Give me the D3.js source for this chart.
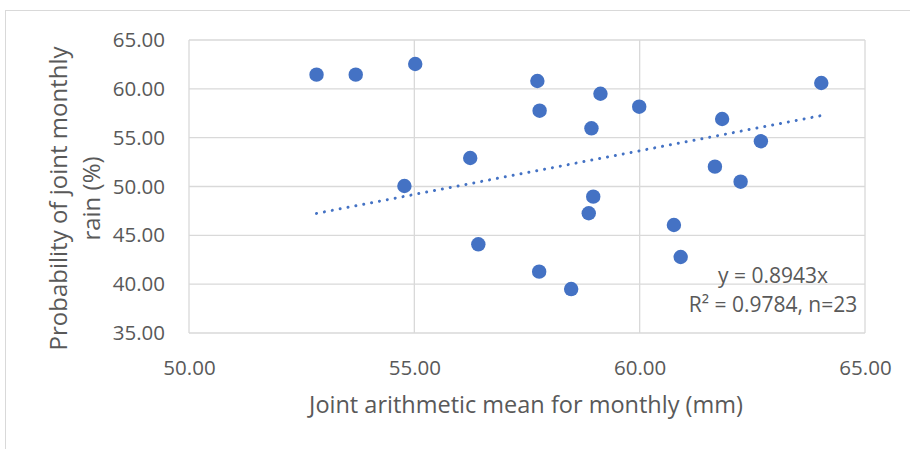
<!DOCTYPE html>
<html>
<head>
<meta charset="utf-8">
<script src="https://cdn.jsdelivr.net/npm/d3@7"></script>
<style>
  body { margin: 0; background: #fff; }
  text { font-family: "Open Sans", sans-serif; fill: #595959; }
</style>
</head>
<body>
<div id="chart"></div>
<script>
// mean monthly rain (mm) vs probability of joint monthly rain (%)
var xVals = [52.83, 53.70, 55.02, 54.78, 57.73, 57.78, 59.13, 59.99, 58.93, 56.24, 64.03,
             61.83, 62.69, 61.67, 62.24, 58.97, 58.87, 60.76, 56.42, 57.77, 58.48, 60.91];
var yVals = [61.45, 61.45, 62.54, 50.05, 60.80, 57.76, 59.50, 58.17, 55.96, 52.92, 60.60,
             56.91, 54.63, 52.03, 50.49, 48.96, 47.26, 46.06, 44.08, 41.28, 39.50, 42.78];
var xTicks = [50, 55, 60, 65];
var yTicks = [35, 40, 45, 50, 55, 60, 65];
var slope = 0.8943;
var eqLines = ["y = 0.8943x", "R\u00b2 = 0.9784, n=23"];

var W = 910, H = 449;
var margin = {top: 40, right: 45, bottom: 116, left: 189},
    width = 865 - margin.left, height = 333 - margin.top;

var root = d3.select("#chart").append("svg").attr("width", W).attr("height", H);
root.append("rect").attr("x", 5.5).attr("y", 10.5).attr("width", W).attr("height", H)
  .attr("fill", "#fff").attr("stroke", "#d9d9d9");

var svg = root.append("g").attr("transform", `translate(${margin.left},${margin.top})`);

var x = d3.scaleLinear().domain([50, 65]).range([0, width]);
var y = d3.scaleLinear().domain([35, 65]).range([height, 0]);

// gridlines
svg.append("g").selectAll("line").data(yTicks).join("line")
  .attr("x1", 0).attr("x2", width).attr("y1", d => y(d)).attr("y2", d => y(d))
  .attr("stroke", "#d9d9d9").attr("stroke-width", 1.3);
svg.append("g").selectAll("line").data(xTicks).join("line")
  .attr("y1", 0).attr("y2", height).attr("x1", d => x(d)).attr("x2", d => x(d))
  .attr("stroke", "#d9d9d9").attr("stroke-width", 1.3);

// axes (labels only)
var xAxis = svg.append("g").attr("transform", `translate(0,${height})`)
  .call(d3.axisBottom(x).tickValues(xTicks).tickFormat(d3.format(".2f")).tickSize(0).tickPadding(27));
var yAxis = svg.append("g")
  .call(d3.axisLeft(y).tickValues(yTicks).tickFormat(d3.format(".2f")).tickSize(0).tickPadding(24));
[xAxis, yAxis].forEach(function(a) {
  a.select(".domain").remove();
  a.selectAll("text").attr("font-size", 20.5).attr("font-family", null).attr("fill", "#595959");
});

// trendline through origin
var ext = d3.extent(xVals);
svg.append("line")
  .attr("x1", x(ext[0])).attr("y1", y(slope * ext[0]))
  .attr("x2", x(ext[1])).attr("y2", y(slope * ext[1]))
  .attr("stroke", "#4472c4").attr("stroke-width", 3)
  .attr("stroke-linecap", "round").attr("stroke-dasharray", "0.01 8");

// points
svg.append("g").selectAll("circle").data(d3.range(xVals.length)).join("circle")
  .attr("cx", i => x(xVals[i])).attr("cy", i => y(yVals[i])).attr("r", 7.2)
  .attr("fill", "#4472c4");

// equation label
svg.append("g").selectAll("text").data(eqLines).join("text")
  .attr("x", 584).attr("y", (d, i) => 243 + i * 29)
  .attr("text-anchor", "middle").attr("font-size", 21).text(d => d);

// axis titles
svg.append("text").attr("x", width / 2 - 1).attr("y", height + 80)
  .attr("text-anchor", "middle").attr("font-size", 23.5)
  .text("Joint arithmetic mean for monthly (mm)");

var yt = svg.append("text").attr("transform", `translate(-122,${height / 2 + 12}) rotate(-90)`)
  .attr("text-anchor", "middle").attr("font-size", 24);
yt.append("tspan").attr("x", 0).attr("y", 0).text("Probability of joint monthly");
yt.append("tspan").attr("x", 0).attr("y", 33).text("rain (%)");
</script>
</body>
</html>
